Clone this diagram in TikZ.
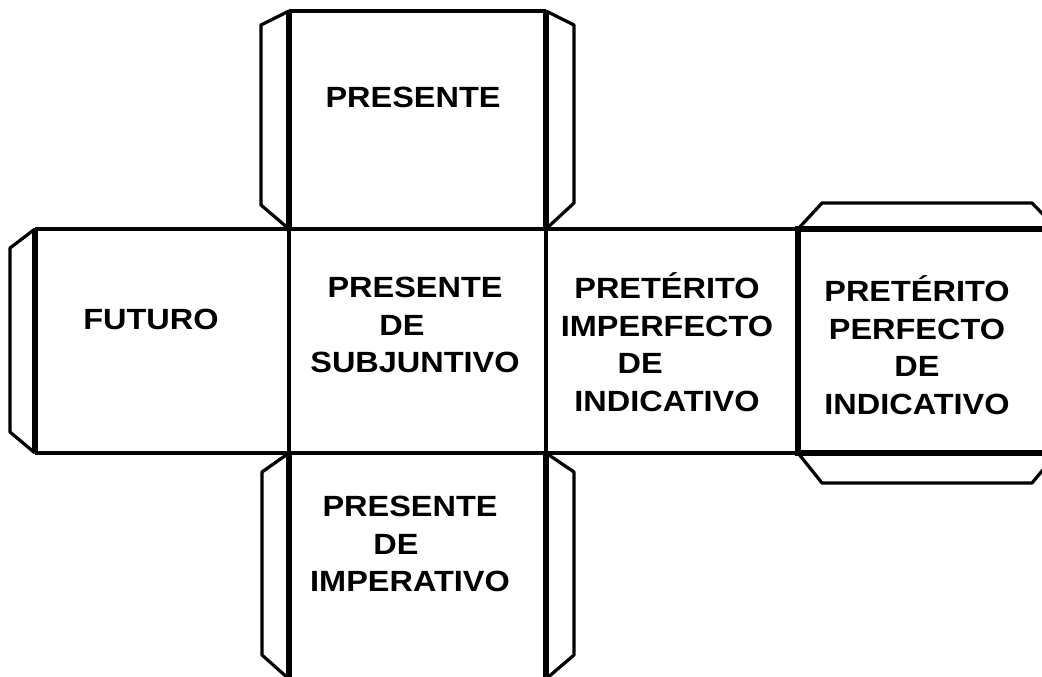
\documentclass[tikz,border=0pt]{standalone}
\usepackage{fontspec}
\newfontfamily\netfont[FakeStretch=1.11]{Liberation Sans}

\tikzset{
  tab/.style={line width=2.3pt, line join=round},
  edge/.style={line width=2.4pt},
  fold/.style={line width=3.8pt},
  tense/.style={align=center, inner sep=0pt,
    font={\netfont\bfseries\fontsize{20.8}{26.7}\selectfont}},
}

\begin{document}
\begin{tikzpicture}[x=0.025cm, y=-0.025cm]
\useasboundingbox (0,0) rectangle (1042,677);
\clip (0,0) rectangle (1042,677);
\fill [white] (0,0) rectangle (1042,677);
\coordinate (A) at (289,11);
\coordinate (B) at (546,11);
\coordinate (C) at (35,229);
\coordinate (D) at (289,229);
\coordinate (E) at (546,229);
\coordinate (F) at (798,229);
\coordinate (G) at (1057,229);
\coordinate (H) at (35,453);
\coordinate (I) at (289,453);
\coordinate (J) at (546,453);
\coordinate (K) at (798,453);
\coordinate (L) at (1057,453);
\coordinate (M) at (289,679);
\coordinate (N) at (546,679);

% tabs
\draw [tab] (A)--(261,25)--(261,205)--(D);
\draw [tab] (B)--(574,25)--(574,203)--(E);
\draw [tab] (C)--(10,248)--(10,432)--(H);
\draw [tab] (F)--(822,203)--(1032,203)--(G);
\draw [tab] (K)--(822,483)--(1032,483)--(L);
\draw [tab] (I)--(262,472)--(262,655)--(M);
\draw [tab] (J)--(574,472)--(574,655)--(N);

% faces
\draw [edge, line width=3pt] (A)--(B);
\draw [edge] (C)--(F) (H)--(K) (D)--(I) (E)--(J) (G)--(L);
\draw [edge] (M)--(N);

% folds
\draw [fold] (A)--(D) (B)--(E);
\draw [fold] (C)--(H);
\draw [fold] (G)--(F)--(K)--(L);
\draw [fold] (I)--(M) (J)--(N);

\node [tense] (presente) at (413,97) {PRESENTE};
\node [tense] (futuro) at (151,319) {FUTURO};
\node [tense] (subjuntivo) at (415,325) {PRESENTE\\DE\kern18.5pt\\SUBJUNTIVO};
\node [tense] (imperfecto) at (667,342) {PRETÉRITO\\IMPERFECTO\\DE\kern38pt\\INDICATIVO};
\node [tense] (perfecto) at (917,345) {PRETÉRITO\\PERFECTO\\DE\\INDICATIVO};
\node [tense] (imperativo) at (410,544) {PRESENTE\\DE\kern20pt\\IMPERATIVO};
\end{tikzpicture}
\end{document}
